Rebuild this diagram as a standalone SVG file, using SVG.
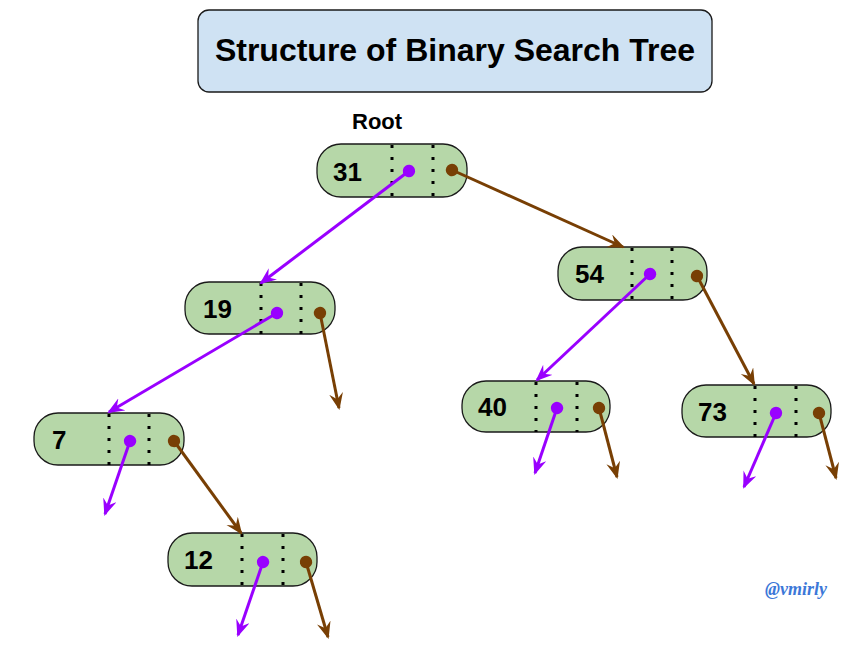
<svg xmlns="http://www.w3.org/2000/svg" width="865" height="649" viewBox="0 0 865 649">
<style>
.box{fill:#b6d7a8;stroke:#1a1a1a;stroke-width:1.3}
.sep{stroke:#000;stroke-width:3;stroke-dasharray:3 9}
.num{font-family:"Liberation Sans",Arial,sans-serif;font-weight:bold;font-size:26px;fill:#000}
.pl{stroke:#9900ff;stroke-width:3;fill:none;marker-start:url(#dp);marker-end:url(#ap)}
.br{stroke:#783f04;stroke-width:3;fill:none;marker-start:url(#db);marker-end:url(#ab)}
</style>
<defs>
<marker id="ap" markerUnits="userSpaceOnUse" markerWidth="18" markerHeight="15" refX="15" refY="7" orient="auto"><path d="M0,0 L17,7 L0,14 L6,7 Z" fill="#9900ff"/></marker>
<marker id="ab" markerUnits="userSpaceOnUse" markerWidth="18" markerHeight="15" refX="15" refY="7" orient="auto"><path d="M0,0 L17,7 L0,14 L6,7 Z" fill="#783f04"/></marker>
<marker id="dp" markerUnits="userSpaceOnUse" markerWidth="14" markerHeight="14" refX="7" refY="7" orient="auto"><circle cx="7" cy="7" r="6.2" fill="#9900ff"/></marker>
<marker id="db" markerUnits="userSpaceOnUse" markerWidth="14" markerHeight="14" refX="7" refY="7" orient="auto"><circle cx="7" cy="7" r="6.2" fill="#783f04"/></marker>
</defs>
<rect width="865" height="649" fill="#fff"/>
<g id="title">
<rect x="198" y="10" width="514" height="82" rx="11" fill="#cfe2f3" stroke="#1a1a1a" stroke-width="1.3"/>
<text x="455" y="61" text-anchor="middle" font-family="Liberation Sans,Arial,sans-serif" font-weight="bold" font-size="32">Structure of Binary Search Tree</text>
</g>
<g id="root-label"><text x="352" y="129" font-family="Liberation Sans,Arial,sans-serif" font-weight="bold" font-size="22">Root</text></g>
<g id="node31"><rect class="box" x="317" y="144" width="150" height="53" rx="24"/><line class="sep" x1="392" y1="145" x2="392" y2="197"/><line class="sep" x1="433" y1="145" x2="433" y2="197"/><text class="num" x="333" y="181">31</text></g>
<g id="node19"><rect class="box" x="185" y="282" width="150" height="52" rx="24"/><line class="sep" x1="261" y1="283" x2="261" y2="334"/><line class="sep" x1="301" y1="283" x2="301" y2="334"/><text class="num" x="203" y="318">19</text></g>
<g id="node54"><rect class="box" x="558" y="247" width="149" height="53" rx="24"/><line class="sep" x1="632" y1="248" x2="632" y2="300"/><line class="sep" x1="672" y1="248" x2="672" y2="300"/><text class="num" x="575" y="283">54</text></g>
<g id="node40"><rect class="box" x="462" y="381" width="148" height="51" rx="24"/><line class="sep" x1="536" y1="382" x2="536" y2="432"/><line class="sep" x1="577" y1="382" x2="577" y2="432"/><text class="num" x="478" y="416">40</text></g>
<g id="node73"><rect class="box" x="682" y="385" width="149" height="52" rx="24"/><line class="sep" x1="755" y1="386" x2="755" y2="437"/><line class="sep" x1="796" y1="386" x2="796" y2="437"/><text class="num" x="698" y="421">73</text></g>
<g id="node7"><rect class="box" x="34" y="413" width="150" height="52" rx="24"/><line class="sep" x1="109" y1="414" x2="109" y2="465"/><line class="sep" x1="149" y1="414" x2="149" y2="465"/><text class="num" x="52" y="449">7</text></g>
<g id="node12"><rect class="box" x="168" y="533" width="149" height="53" rx="24"/><line class="sep" x1="242" y1="534" x2="242" y2="586"/><line class="sep" x1="283" y1="534" x2="283" y2="586"/><text class="num" x="184" y="569">12</text></g>
<g id="connectors">
<line class="pl" x1="409" y1="171" x2="261" y2="283"/>
<line class="br" x1="452" y1="170" x2="623" y2="247"/>
<line class="pl" x1="277" y1="313" x2="109" y2="412"/>
<line class="br" x1="320" y1="313" x2="339" y2="408"/>
<line class="pl" x1="650" y1="274" x2="537" y2="380"/>
<line class="br" x1="697" y1="276" x2="754" y2="384"/>
<line class="pl" x1="130" y1="441" x2="105" y2="514"/>
<line class="br" x1="174" y1="441" x2="241" y2="533"/>
<line class="pl" x1="557" y1="408" x2="535" y2="473"/>
<line class="br" x1="599" y1="408" x2="617" y2="477"/>
<line class="pl" x1="776" y1="413" x2="744" y2="487"/>
<line class="br" x1="819" y1="413" x2="836" y2="478"/>
<line class="pl" x1="263" y1="562" x2="238" y2="635"/>
<line class="br" x1="306" y1="562" x2="328" y2="637"/>
</g>
<g id="credit"><text x="765" y="595" font-family="Liberation Serif,serif" font-style="italic" font-weight="bold" font-size="18" fill="#3c78d8">@vmirly</text></g>
</svg>
